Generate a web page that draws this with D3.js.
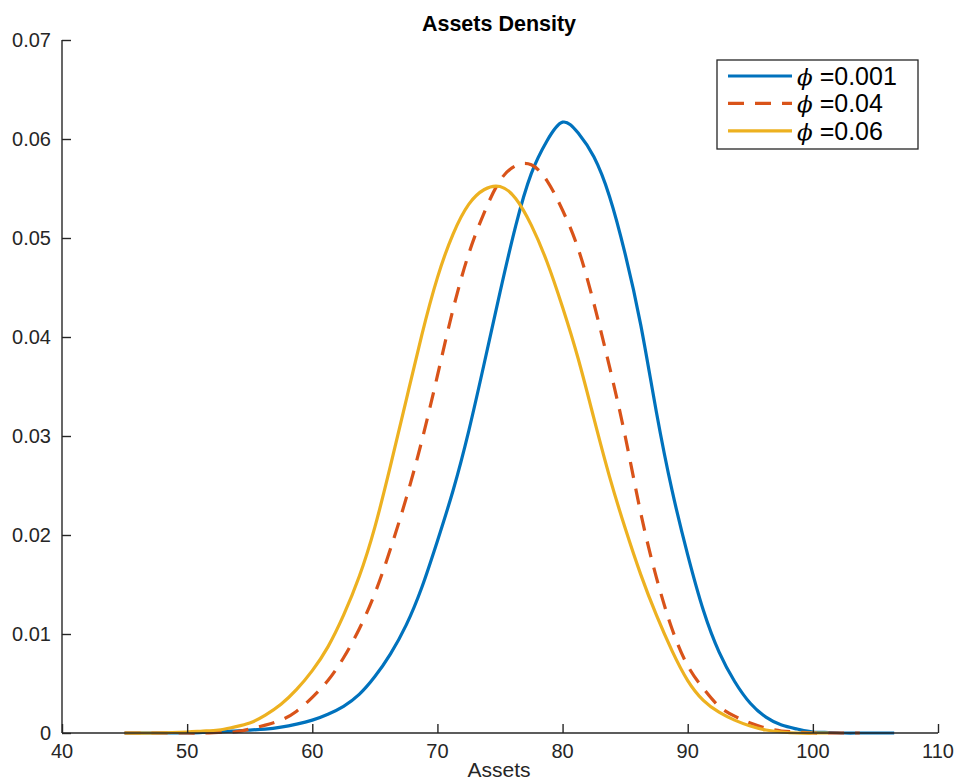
<!DOCTYPE html>
<html>
<head>
<meta charset="utf-8">
<script src="https://cdn.jsdelivr.net/npm/d3@7"></script>
<style>
  html,body{margin:0;padding:0;background:#fff}
  svg{display:block}
  text{font-family:"Liberation Sans",Arial,Helvetica,sans-serif;fill:#262626}
</style>
</head>
<body>
<svg id="chart" width="957" height="781"></svg>
<script>
// asset grid (x values) shared by the three densities
const assets = [45, 47.5, 50, 51.25, 52.5, 53.75, 55, 56.25, 57.5, 58.75, 60, 61.25, 62.5, 63.75,
  65, 66.25, 67.5, 68.75, 70, 71.25, 72.5, 73.75, 75, 76.25, 77.5, 78.75, 80, 81.25, 82.5, 83.75,
  85, 86.25, 87.5, 88.75, 90, 91.25, 92.5, 93.75, 95, 96.25, 97.5, 98.75, 100, 101.25, 102.5,
  103.75, 105, 106.5];

// densities (shorter arrays stop earlier on the grid)
const phi001 = [0, 0, 0, 0.00005, 0.0001, 0.0002, 0.0003, 0.0004, 0.0006, 0.0009, 0.0013, 0.0019,
  0.0027, 0.0039, 0.0057, 0.0080, 0.0109, 0.0147, 0.0194, 0.0245, 0.0305, 0.0374, 0.0445, 0.0512,
  0.0565, 0.0598, 0.0617, 0.0606, 0.0582, 0.0542, 0.0484, 0.0412, 0.0324, 0.0245, 0.0180, 0.0124,
  0.0082, 0.0052, 0.0030, 0.0016, 0.0008, 0.0004, 0.0001, 0.00005, 0, 0, 0, 0];
const phi04 = [0, 0, 0, 0, 0.00005, 0.0001, 0.0004, 0.0008, 0.0013, 0.0022, 0.0036, 0.0053,
  0.0076, 0.0105, 0.0141, 0.0186, 0.0237, 0.0295, 0.0361, 0.0428, 0.0484, 0.0526, 0.0558, 0.0573,
  0.0574, 0.0558, 0.0528, 0.0489, 0.0434, 0.0370, 0.0300, 0.0222, 0.0157, 0.0105, 0.0068, 0.0045,
  0.0027, 0.0017, 0.0010, 0.0005, 0.0002, 0.0001, 0, 0, 0, 0];
const phi06 = [0, 0, 0.0001, 0.0002, 0.0003, 0.0006, 0.0010, 0.0018, 0.0029, 0.0044, 0.0063, 0.0087,
  0.0119, 0.0158, 0.0208, 0.0270, 0.0336, 0.0402, 0.0460, 0.0504, 0.0534, 0.0549, 0.0552, 0.0540,
  0.0513, 0.0476, 0.0430, 0.0378, 0.0318, 0.0259, 0.0207, 0.0160, 0.0119, 0.0083, 0.0053, 0.0033,
  0.0021, 0.0013, 0.0007, 0.0003, 0.0001, 0, 0, 0];

const seriesNames = ['\u03D5 =0.001', '\u03D5 =0.04', '\u03D5 =0.06'];
const seriesValues = [phi001, phi04, phi06];
const seriesColors = ['#0072BD', '#D95319', '#EDB120'];
const seriesDash = [null, '16,11', null];

const xTicks = [40, 50, 60, 70, 80, 90, 100, 110];
const yTicks = [0, 0.01, 0.02, 0.03, 0.04, 0.05, 0.06, 0.07];

const svg = d3.select('#chart');
const margin = {left: 62, top: 40, right: 19, bottom: 48};
const W = 957, H = 781;

const x = d3.scaleLinear().domain([40, 110]).range([margin.left, W - margin.right]);
const y = d3.scaleLinear().domain([0, 0.07]).range([H - margin.bottom, margin.top]);

// curves
const line = d3.line().x(d => x(d[0])).y(d => y(Math.max(0, d[1]))).curve(d3.curveNatural);
seriesValues.forEach((vals, i) => {
  const pts = vals.map((v, k) => [assets[k], v]);
  svg.append('path').datum(pts)
    .attr('d', line)
    .attr('fill', 'none')
    .attr('stroke', seriesColors[i])
    .attr('stroke-width', 3.2)
    .attr('stroke-linejoin', 'round')
    .attr('stroke-dasharray', seriesDash[i]);
});

// axes (ticks point inward, matlab style)
const xAxis = svg.append('g').attr('transform', `translate(0,${y(0)})`)
  .call(d3.axisTop(x).tickValues(xTicks).tickSize(9).tickFormat(''));
const yAxis = svg.append('g').attr('transform', `translate(${x(40)},0)`)
  .call(d3.axisRight(y).tickValues(yTicks).tickSize(9).tickFormat(''));
[xAxis, yAxis].forEach(g => {
  g.selectAll('path,line').attr('stroke', '#262626').attr('stroke-width', 1.4);
  g.select('.domain').attr('d', null);
});
svg.append('line').attr('x1', x(40)).attr('x2', x(110)).attr('y1', y(0)).attr('y2', y(0))
  .attr('stroke', '#262626').attr('stroke-width', 1.4);
svg.append('line').attr('x1', x(40)).attr('x2', x(40)).attr('y1', y(0)).attr('y2', y(0.07))
  .attr('stroke', '#262626').attr('stroke-width', 1.4);

// tick labels
svg.append('g').selectAll('text').data(xTicks).join('text')
  .attr('x', d => x(d)).attr('y', y(0) + 25)
  .attr('text-anchor', 'middle').attr('font-size', 20)
  .text(d => d);
svg.append('g').selectAll('text').data(yTicks).join('text')
  .attr('x', x(40) - 11).attr('y', d => y(d)).attr('dy', '0.35em')
  .attr('text-anchor', 'end').attr('font-size', 20)
  .text(d => d === 0 ? '0' : d.toFixed(2));

// title + x label
svg.append('text').attr('x', 499).attr('y', 31).attr('text-anchor', 'middle')
  .attr('font-size', 21.5).attr('font-weight', 'bold').style('fill', '#000')
  .text('Assets Density');
svg.append('text').attr('x', 499).attr('y', 777).attr('text-anchor', 'middle')
  .attr('font-size', 21).text('Assets');

// legend
const lg = svg.append('g').attr('transform', 'translate(717,60)');
lg.append('rect').attr('width', 201).attr('height', 89)
  .attr('fill', '#fff').attr('stroke', '#262626').attr('stroke-width', 1.3);
seriesNames.forEach((name, i) => {
  const cy = 16 + i * 27.4;
  lg.append('line').attr('x1', 11).attr('x2', 75).attr('y1', cy).attr('y2', cy)
    .attr('stroke', seriesColors[i]).attr('stroke-width', 3.2)
    .attr('stroke-dasharray', seriesDash[i]);
  const t = lg.append('text').attr('x', 80).attr('y', cy).attr('dy', '0.36em')
    .attr('font-size', 25).style('fill', '#000');
  t.append('tspan').attr('font-family', '"DejaVu Serif","Liberation Serif",serif')
    .attr('font-style', 'italic').attr('font-size', 23).text(name.slice(0, 1));
  t.append('tspan').text(name.slice(1));
});
</script>
</body>
</html>
